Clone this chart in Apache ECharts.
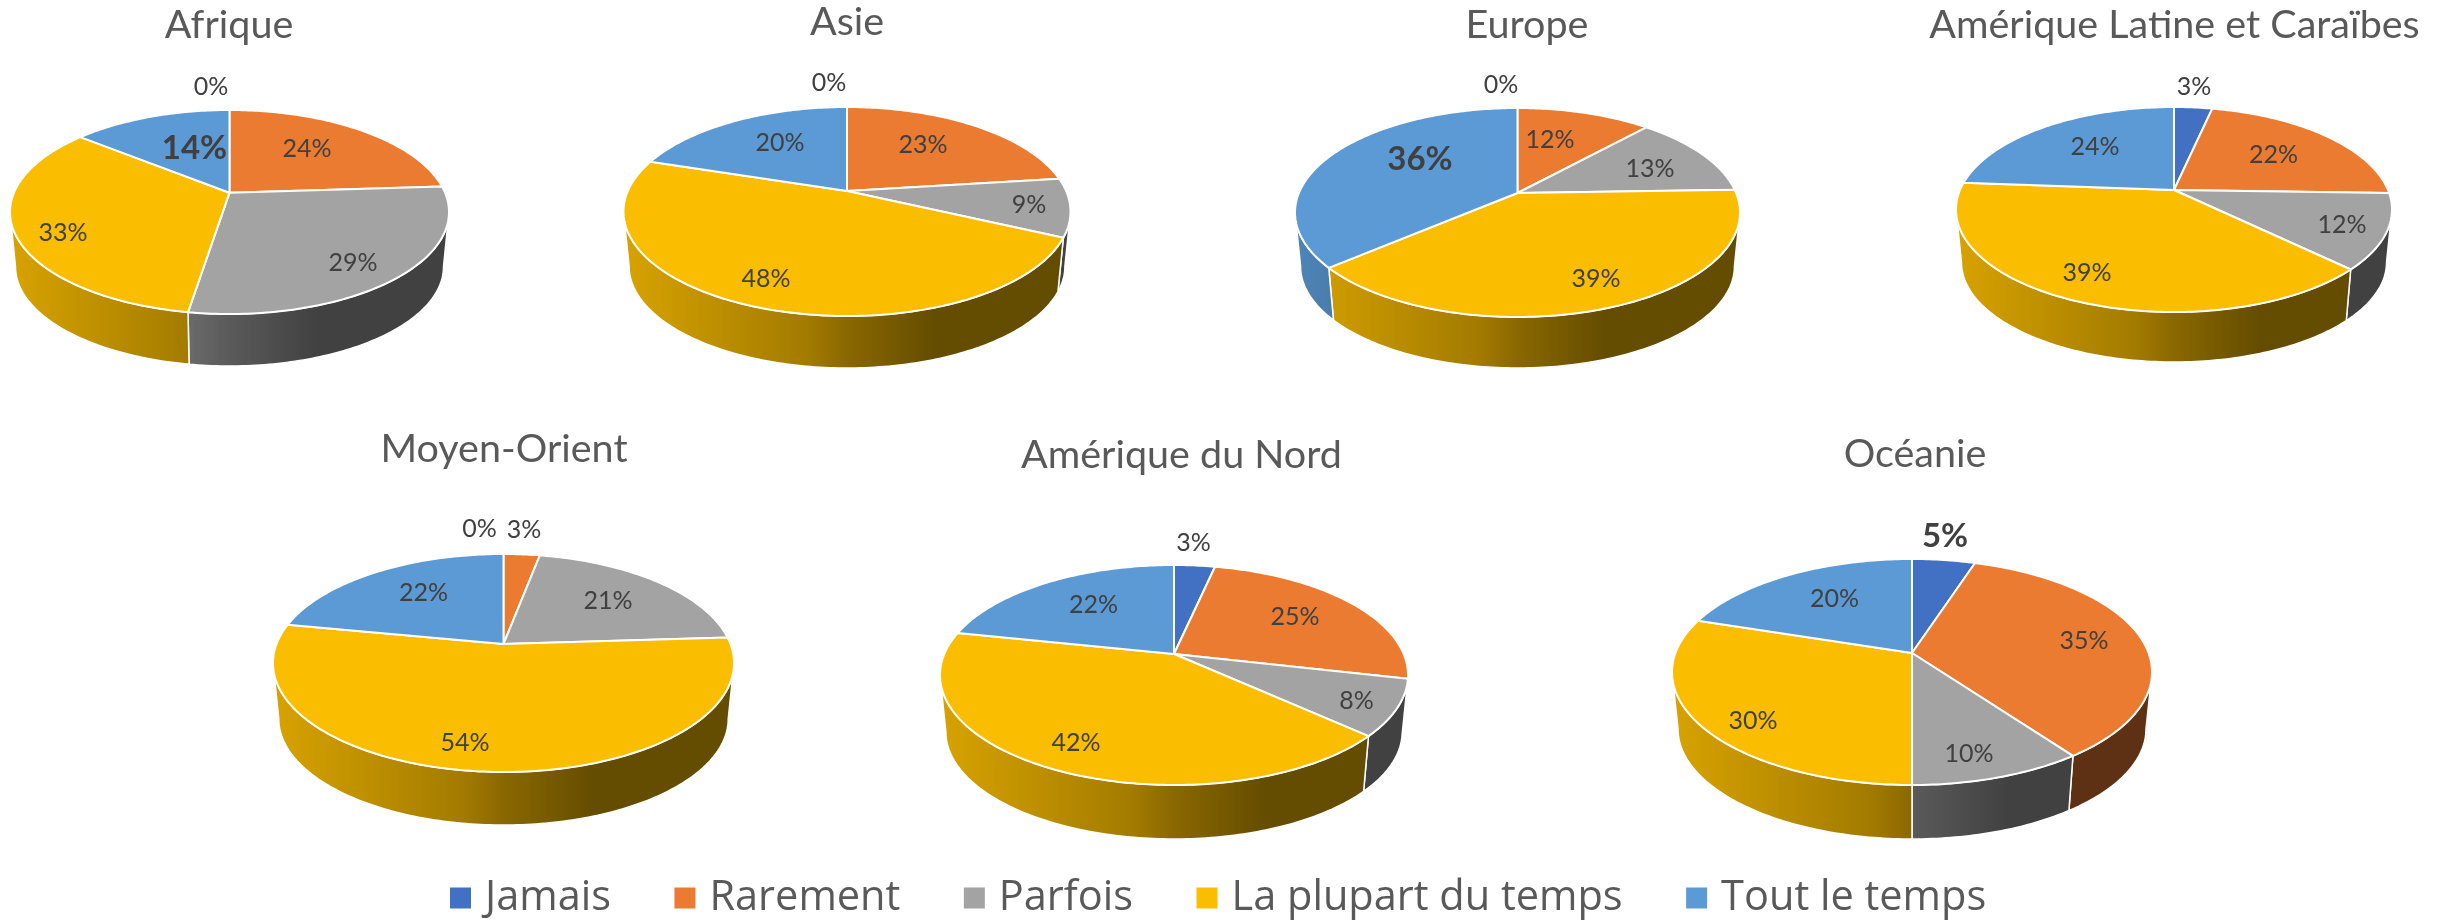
<!DOCTYPE html>
<html lang="fr">
<head>
<meta charset="utf-8">
<title>Fréquence par région</title>
<style>html,body{margin:0;padding:0;background:#fff}#chart{width:2451px;height:922px}</style>
<script src="https://cdn.jsdelivr.net/npm/echarts@6/dist/echarts.min.js"></script>
</head>
<body>
<div id="chart"></div>
<script>
// ---- data (read from slice boundaries; labels show the rounded value) ----
const regions = ['Afrique', 'Asie', 'Europe', 'Amérique Latine et Caraïbes', 'Moyen-Orient', 'Amérique du Nord', 'Océanie'];
const categories = ['Jamais', 'Rarement', 'Parfois', 'La plupart du temps', 'Tout le temps'];
const jamais     = [0, 0, 0, 3.4, 0, 3.4, 5];
const rarement   = [24, 23, 11.7, 22.1, 3, 25.2, 35];
const parfois    = [28.5, 9, 12.8, 11.8, 21, 8.2, 10];
const laPlupart  = [33.4, 48, 39.2, 38.9, 54, 41.5, 30];
const toutLeTemps= [14.1, 20, 36.3, 23.8, 22, 21.7, 20];
const seriesValues = [jamais, rarement, parfois, laPlupart, toutLeTemps];

// ---- layout (pixels), separate from the data ----
const colors = ['#4270C2', '#EB7B31', '#A3A3A3', '#FBBD00', '#5B9AD5'];
const pieCx     = [229.5, 847, 1517.5, 2174, 503.5, 1174, 1912];
const pieCy     = [192.7, 191, 193, 190, 644, 654, 653];
const pieRx     = [219.5, 223.5, 222.5, 218, 230.5, 234, 240];
const pieUp     = [82.7, 84, 85, 83, 90, 89, 94];
const pieDown   = [121.3, 125, 124, 122, 128, 131, 132];
const pieBottom = [366, 368, 368, 362, 825, 839, 839];
const titleX = [229, 847, 1527, 2174.5, 504, 1181.5, 1915];
const titleY = [25, 22, 25, 25, 449, 455, 454];
// label centres, one row per region, in category order
const labelXY = [
  [[211,87],[307,149],[353,263],[63,233],[194.5,148]],
  [[829,83],[923,145],[1029,205],[766,279],[780,143]],
  [[1501,85],[1550,140],[1650,169],[1596,279],[1420,159]],
  [[2194,87],[2273.5,155],[2342,225],[2087,273],[2095,147]],
  [[479.5,529],[524,530],[608,601],[465,743],[423.5,593]],
  [[1193.6,543],[1295,617],[1356.5,701],[1076,743],[1093.5,605]],
  [[1945,536],[2084,641],[1969,754],[1753,721],[1834.5,599]]
];
// labels drawn larger and bold in the original: region-category
const boldLabels = ['0-4', '2-4', '6-0'];

const RIM_SCALE = 0.975;
const DEG = Math.PI / 180;

function shade(hex, f) {
  const n = parseInt(hex.slice(1), 16);
  const c = [(n >> 16) & 255, (n >> 8) & 255, n & 255].map(v => Math.round(v * f));
  return 'rgb(' + c.join(',') + ')';
}

// projective view of a circular disc: theta is clockwise from the top
function projector(r) {
  const up = pieUp[r], down = pieDown[r];
  const k = (down - up) / (down + up);
  const ryp = up * (1 + k);
  const rxp = pieRx[r] * Math.sqrt(1 - k * k);
  const cx = pieCx[r], cy = pieCy[r];
  const dz = pieBottom[r] - cy - down * RIM_SCALE;
  return {
    k,
    top(th) {
      const u = Math.sin(th * DEG), v = -Math.cos(th * DEG), w = 1 - k * v;
      return [cx + rxp * u / w, cy + ryp * v / w];
    },
    bottom(th) {
      const p = this.top(th);
      return [cx + (p[0] - cx) * RIM_SCALE, cy + (p[1] - cy) * RIM_SCALE + dz];
    }
  };
}

function arc(fn, a, b) {
  const pts = [];
  const n = Math.max(1, Math.ceil(b - a));
  for (let i = 0; i <= n; i++) pts.push(fn(a + (b - a) * i / n));
  return pts;
}

function renderSlice(params) {
  const r = params.dataIndex, c = params.seriesIndex;
  const values = seriesValues.map(s => s[r]);
  const total = values.reduce((a, b) => a + b, 0);
  const before = values.slice(0, c).reduce((a, b) => a + b, 0);
  const a0 = before / total * 360, a1 = (before + values[c]) / total * 360;
  const proj = projector(r);
  const children = [];
  const top = p => proj.top(p), bot = p => proj.bottom(p);

  if (values[c] > 0) {
    // outer wall: only the part of the rim that faces the viewer
    const ths = Math.acos(-proj.k) / DEG;
    const w0 = Math.max(a0, ths), w1 = Math.min(a1, 360 - ths);
    if (w1 > w0) {
      const x0 = pieCx[r] - pieRx[r], x1 = pieCx[r] + pieRx[r];
      const col = colors[c];
      children.push({
        type: 'polygon', z2: 1,
        shape: { points: arc(top, w0, w1).concat(arc(bot, w0, w1).reverse()) },
        style: {
          fill: new echarts.graphic.LinearGradient(x0, 0, x1, 0, [
            { offset: 0, color: shade(col, 0.86) },
            { offset: 0.41, color: shade(col, 0.65) },
            { offset: 0.5, color: shade(col, 0.55) },
            { offset: 0.7, color: shade(col, 0.4) },
            { offset: 1, color: shade(col, 0.4) }
          ], true),
          stroke: '#fff', lineWidth: 1.5, lineJoin: 'round'
        }
      });
    }
    // top face
    children.push({
      type: 'polygon', z2: 2,
      shape: { points: [[pieCx[r], pieCy[r]]].concat(arc(top, a0, a1)) },
      style: { fill: colors[c], stroke: '#fff', lineWidth: 2, lineJoin: 'round' }
    });
  }
  const bold = boldLabels.indexOf(r + '-' + c) >= 0;
  children.push({
    type: 'text', z2: 3,
    x: labelXY[r][c][0], y: labelXY[r][c][1],
    style: {
      text: Math.round(values[c]) + '%',
      fill: '#404040',
      font: (bold ? 'bold 33px' : '25px') + ' Lato, "Open Sans", sans-serif',
      align: 'center', verticalAlign: 'middle'
    }
  });
  return { type: 'group', children };
}

const chart = echarts.init(document.getElementById('chart'), null, { renderer: 'canvas' });
chart.setOption({
  animation: false,
  backgroundColor: '#fff',
  title: regions.map((t, i) => ({
    text: t, left: titleX[i], top: titleY[i] - 22, textAlign: 'center', padding: 0,
    textStyle: { fontFamily: 'Lato', fontWeight: 'normal', fontSize: 39.5, color: '#595959', lineHeight: 44 }
  })),
  legend: {
    data: categories, left: 450, top: 873, padding: 0, icon: 'rect',
    itemWidth: 21, itemHeight: 21, itemGap: 63.5, selectedMode: false,
    textStyle: { fontFamily: 'Open Sans', fontSize: 41.5, lineHeight: 50, color: '#595959', padding: [0, 0, 0, 9] }
  },
  series: categories.map((name, c) => ({
    type: 'custom', name, coordinateSystem: 'none',
    itemStyle: { color: colors[c] },
    renderItem: renderSlice,
    data: regions.map((rn, r) => ({ name: rn, value: seriesValues[c][r] }))
  }))
});
</script>
</body>
</html>
